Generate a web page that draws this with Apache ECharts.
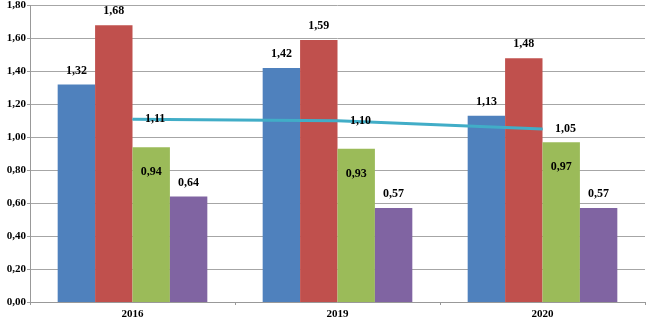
<!DOCTYPE html>
<html>
<head>
<meta charset="utf-8">
<script src="https://cdn.jsdelivr.net/npm/echarts@6/dist/echarts.min.js"></script>
<style>
  html, body { margin: 0; padding: 0; background: #fff; }
  #chart { width: 648px; height: 320px; }
</style>
</head>
<body>
<div id="chart"></div>
<script>
// données
const years = ['2016', '2019', '2020']
const serieA = [1.32, 1.42, 1.13]
const serieB = [1.68, 1.59, 1.48]
const serieC = [0.94, 0.93, 0.97]
const serieD = [0.64, 0.57, 0.57]
const ligne = [1.11, 1.10, 1.05]

const fmt = p => p.value.toFixed(2).replace('.', ',')
const font = { fontFamily: 'Liberation Serif', fontWeight: 'bold', fontSize: 12, color: '#000' }

const bar = (data, color, inside) => ({
  type: 'bar',
  data: data,
  barGap: 0,
  barCategoryGap: '27%',
  itemStyle: { color: color },
  label: Object.assign({
    show: true,
    position: inside ? 'insideTop' : 'top',
    distance: inside ? 19 : 8,
    formatter: fmt
  }, font)
})

const chart = echarts.init(document.getElementById('chart'))
chart.setOption({
  animation: false,
  grid: { left: 30, right: 3, top: 5, bottom: 17 },
  xAxis: {
    type: 'category',
    data: years,
    axisLine: { lineStyle: { color: '#999' } },
    axisTick: { show: true, length: 3, lineStyle: { color: '#999' } },
    axisLabel: Object.assign({ margin: 7 }, font, { fontSize: 11 })
  },
  yAxis: {
    type: 'value',
    min: 0,
    max: 1.8,
    interval: 0.2,
    axisLine: { show: true, lineStyle: { color: '#999' } },
    axisTick: { show: true, length: 3, lineStyle: { color: '#999' } },
    splitLine: { lineStyle: { color: '#a6a6a6' } },
    axisLabel: Object.assign({
      margin: 4,
      formatter: v => v.toFixed(2).replace('.', ',')
    }, font, { fontSize: 11 })
  },
  series: [
    bar(serieA, '#4f81bd'),
    bar(serieB, '#c0504d'),
    bar(serieC, '#9bbb59', true),
    bar(serieD, '#8064a2'),
    {
      type: 'line',
      data: ligne,
      symbol: 'circle',
      symbolSize: 1,
      showSymbol: true,
      z: 5,
      itemStyle: { color: '#41adc7' },
      lineStyle: { color: '#41adc7', width: 3 },
      label: Object.assign({
        show: true,
        position: 'right',
        distance: 12,
        formatter: fmt
      }, font)
    }
  ]
})
</script>
</body>
</html>
